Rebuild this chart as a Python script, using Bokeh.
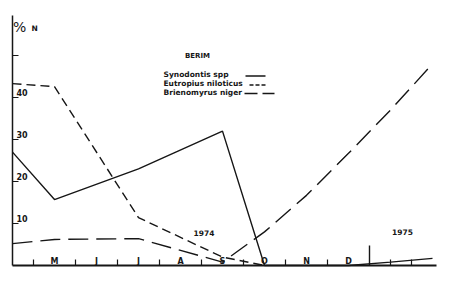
from bokeh.plotting import figure
from bokeh.models import Range1d
from bokeh.core.properties import value
from bokeh.embed import file_html
from bokeh.resources import INLINE

# ---- data ----
month_labels = ["M", "J", "J", "A", "S", "O", "N", "D"]
month_pos = [1, 2, 3, 4, 5, 6, 7, 8]
sample_x = [0, 1, 3, 5, 6, 7, 8, 9, 10]
synodontis = [27, 15.7, 23, 32, 0, 0, 0, 0.8, 1.7]
eutropius = [43.3, 42.6, 11.4, 2, 0, 0, 0, 0, 0]
brienomyrus = [5.2, 6.2, 6.4, 0.8, 8, 16.7, 26.7, 37, 48]
ytick_vals = [10, 20, 30, 40, 50]
ytick_labels = ["10", "20", "30", "40", ""]
boundary_ticks = [0.5, 1.5, 2.5, 3.5, 4.5, 5.5, 6.5, 7.5, 9.0, 9.5]
year_break = 8.5
series_names = ["Synodontis spp", "Eutropius niloticus", "Brienomyrus niger"]

INK = "#161616"
FONT = value("DejaVu Sans")

# pixel mapping: x px = 12 + 42*x ; y px = 265 - 4.2*v
W, H = 450, 281
p = figure(width=W, height=H, output_backend="svg", toolbar_location=None,
           x_range=Range1d(-12 / 42, (W - 12) / 42),
           y_range=Range1d(-(H - 265) / 4.2, 265 / 4.2),
           x_axis_type=None, y_axis_type=None, min_border=0)
p.xgrid.visible = False
p.ygrid.visible = False
p.outline_line_color = None
p.background_fill_color = "white"
p.border_fill_color = "white"

def X(px):
    return (px - 12) / 42

def V(py):
    return (265 - py) / 4.2

# series
p.line(sample_x, synodontis, line_color=INK, line_width=1.4)
p.line(sample_x[:5], eutropius[:5], line_color=INK, line_width=1.4, line_dash="9 5")
p.line(sample_x, brienomyrus, line_color=INK, line_width=1.4, line_dash="20 8")

# axes
p.segment(x0=[0], y0=[0], x1=[0], y1=[V(15)], line_color=INK, line_width=1.5)
p.segment(x0=[0], y0=[0], x1=[X(436)], y1=[0], line_color=INK, line_width=2.2)
p.segment(x0=boundary_ticks, y0=[0] * len(boundary_ticks), x1=boundary_ticks,
          y1=[1.4] * len(boundary_ticks), line_color=INK, line_width=1.2)
p.segment(x0=[year_break], y0=[0], x1=[year_break], y1=[V(245)], line_color=INK, line_width=1.4)
p.segment(x0=[0] * len(ytick_vals), y0=ytick_vals, x1=[X(18)] * len(ytick_vals), y1=ytick_vals,
          line_color=INK, line_width=1.2)
p.text(x=[X(16)] * len(ytick_vals), y=[v + 0.3 for v in ytick_vals], text=ytick_labels,
       text_font=FONT, text_font_size="8px", text_font_style="bold", text_color=INK,
       text_align="left", text_baseline="bottom")
p.text(x=month_pos, y=[V(260.5)] * len(month_pos), text=month_labels,
       text_font=FONT, text_font_size="8px", text_font_style="bold", text_color=INK,
       text_align="center", text_baseline="middle")

# titles
p.text(x=[X(12.5)], y=[V(34)], text=["%"], text_font=FONT, text_font_size="14px",
       text_color=INK, text_align="left", text_baseline="bottom")
p.text(x=[X(31)], y=[V(32)], text=["N"], text_font=FONT, text_font_size="7.5px",
       text_font_style="bold", text_color=INK, text_align="left", text_baseline="bottom")
p.text(x=[X(197)], y=[V(55)], text=["BERIM"], text_font=FONT, text_font_size="7px",
       text_font_style="bold", text_color=INK, text_align="center", text_baseline="middle")
p.text(x=[X(203.5), X(402)], y=[V(232), V(231)], text=["1974", "1975"], text_font=FONT,
       text_font_size="7.5px", text_font_style="bold", text_color=INK,
       text_align="center", text_baseline="middle")

# legend
p.text(x=[X(163)] * 3, y=[V(73.5), V(83), V(92)], text=series_names, text_font=FONT,
       text_font_size="7.5px", text_font_style="bold", text_color=INK,
       text_align="left", text_baseline="middle")
p.line([X(245), X(265)], [V(75.5), V(75.5)], line_color=INK, line_width=1.4)
p.line([X(249), X(266)], [V(84.5), V(84.5)], line_color=INK, line_width=1.4, line_dash="4 2")
p.line([X(244), X(274)], [V(93), V(93)], line_color=INK, line_width=1.4, line_dash="13 5")

open("out.html", "w").write(file_html(p, INLINE))
